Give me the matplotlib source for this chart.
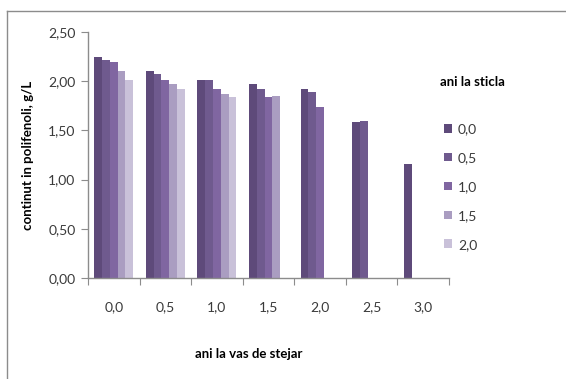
import numpy as np
import matplotlib
matplotlib.use("Agg")
import matplotlib.pyplot as plt
from matplotlib.patches import Patch
from matplotlib.lines import Line2D
from matplotlib.ticker import FuncFormatter

plt.rcParams['font.family'] = ['Lato', 'DejaVu Sans']

# years in oak barrel (categories)
oak_years = ["0,0", "0,5", "1,0", "1,5", "2,0", "2,5", "3,0"]
# years in bottle (series)
bottle_years = ["0,0", "0,5", "1,0", "1,5", "2,0"]

nan = np.nan
s_00 = [2.25, 2.10, 2.01, 1.97, 1.92, 1.59, 1.16]
s_05 = [2.22, 2.07, 2.01, 1.92, 1.89, 1.60, nan]
s_10 = [2.20, 2.01, 1.92, 1.84, 1.74, nan, nan]
s_15 = [2.10, 1.97, 1.87, 1.85, nan, nan, nan]
s_20 = [2.01, 1.92, 1.84, nan, nan, nan, nan]
series = [s_00, s_05, s_10, s_15, s_20]

colors = ["#5e4a7a", "#6f5a8e", "#8066a1", "#aa9dc1", "#c9c1d9"]

fig = plt.figure(figsize=(5.66, 3.79), dpi=100)
ax = fig.add_axes([88 / 566, 1 - 278 / 379, 361 / 566, 246 / 379])

x = np.arange(len(oak_years))
bw = 0.151
for i, (vals, col) in enumerate(zip(series, colors)):
    v = np.array(vals, dtype=float)
    m = ~np.isnan(v)
    ax.bar(x[m] + (i - 2) * bw, v[m], width=bw, color=col,
           edgecolor="none", zorder=2)

ax.set_xlim(-0.5, len(oak_years) - 0.5)
ax.set_ylim(0, 2.5)
ax.set_yticks(np.arange(0, 2.51, 0.5))
ax.yaxis.set_major_formatter(FuncFormatter(lambda v, p: f"{v:.2f}".replace(".", ",")))
ax.set_xticks(np.arange(-0.5, len(oak_years), 1.0))
ax.set_xticklabels([])
ax.set_xticks(x, minor=True)
ax.set_xticklabels(oak_years, minor=True)

gray = "#8c8c8c"
for s in ["top", "right"]:
    ax.spines[s].set_visible(False)
for s in ["left", "bottom"]:
    ax.spines[s].set_color(gray)
    ax.spines[s].set_linewidth(1.0)
ax.tick_params(axis="y", which="major", length=5, color=gray, labelsize=10,
               labelcolor="#3a3a3a", pad=4)
ax.tick_params(axis="x", which="major", length=5, color=gray, direction="out")
ax.tick_params(axis="x", which="minor", length=0, labelsize=10,
               labelcolor="#3a3a3a", pad=17)

ax.set_ylabel("continut in polifenoli, g/L", fontsize=9.5, fontweight="bold")
ax.yaxis.set_label_coords(-(88 - 28) / 361, 0.5)
ax.set_xlabel("ani la vas de stejar", fontsize=9.5, fontweight="bold")
ax.xaxis.set_label_coords((249 - 88) / 361, -(354 - 278) / 246)
ax.xaxis.label.set_va("center")
ax.yaxis.label.set_va("center")

fig.text(472 / 566, 1 - 82 / 379, "ani la sticla", fontsize=9.5,
         fontweight="bold", ha="center", va="center")
handles = [Patch(facecolor=c, edgecolor="none") for c in colors]
fig.legend(handles, bottle_years, loc="upper left",
           bbox_to_anchor=(444 / 566, 1 - 123 / 379), frameon=False,
           fontsize=10, handlelength=0.6, handleheight=0.6,
           handletextpad=0.4, labelspacing=1.22, borderpad=0,
           borderaxespad=0, labelcolor="#3a3a3a")

# outer frame: top and left edges
fig.add_artist(Line2D([7 / 566, 1], [1 - 11 / 379, 1 - 11 / 379],
                      color=gray, lw=1.0, transform=fig.transFigure))
fig.add_artist(Line2D([7 / 566, 7 / 566], [0, 1 - 11 / 379],
                      color=gray, lw=1.0, transform=fig.transFigure))

fig.savefig("out.png", dpi=100)
